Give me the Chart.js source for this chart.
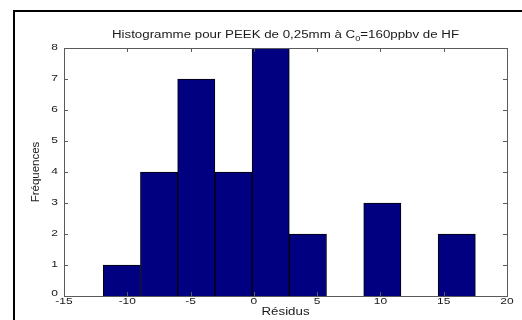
<!DOCTYPE html>
<html>
<head>
<meta charset="utf-8">
<script src="https://cdn.jsdelivr.net/npm/chart.js@4/dist/chart.umd.min.js"></script>
<style>
  html, body { margin: 0; padding: 0; background: #fff; }
  #wrap { width: 522px; height: 320px; position: relative; }
</style>
</head>
<body>
<div id="wrap"><canvas id="histo"></canvas></div>
<script>
// Bin centres (residuals) and counts
binCenters = [-10.43, -7.49, -4.55, -1.61, 1.33, 4.27, 7.21, 10.15, 13.09, 16.03];
counts = [1, 4, 7, 4, 8, 2, 0, 3, 0, 2];
xTicks = [-15, -10, -5, 0, 5, 10, 15, 20];
yTicks = [0, 1, 2, 3, 4, 5, 6, 7, 8];

FONT = '"Liberation Sans", Arial, sans-serif';
STRETCH = 1.33;   // the reference text is a bit wider than normal Arial

// text drawn horizontally stretched, like the scaled figure
function wideText(ctx, str, x, y, size, align) {
    ctx.save();
    ctx.font = size + 'px ' + FONT;
    const w = ctx.measureText(str).width * STRETCH;
    let left = x;
    if (align === 'center') left = x - w / 2;
    if (align === 'right') left = x - w;
    ctx.translate(left, y);
    ctx.scale(STRETCH, 1);
    ctx.textAlign = 'left';
    ctx.fillText(str, 0, 0);
    ctx.restore();
    return w;
}

// Draws frame, titles, tick labels and inward tick marks (MATLAB style)
const matlabLook = {
    id: 'matlabLook',
    afterDraw(chart) {
        const ctx = chart.ctx;
        const a = chart.chartArea;
        const xs = chart.scales.x, ys = chart.scales.y;
        ctx.save();

        // Outer figure frame
        ctx.strokeStyle = '#000';
        ctx.lineWidth = 2;
        ctx.beginPath();
        ctx.moveTo(14, 330);
        ctx.lineTo(14, 11);
        ctx.lineTo(530, 11);
        ctx.stroke();

        // Axes box
        ctx.strokeStyle = '#5a5a5a';
        ctx.lineWidth = 1;
        ctx.strokeRect(a.left + 0.5, a.top + 0.5, a.right - a.left, a.bottom - a.top);

        // Inward tick marks on the four sides
        ctx.beginPath();
        xTicks.forEach(v => {
            const px = Math.round(xs.getPixelForValue(v)) + 0.5;
            ctx.moveTo(px, a.bottom); ctx.lineTo(px, a.bottom - 4);
            ctx.moveTo(px, a.top); ctx.lineTo(px, a.top + 4);
        });
        yTicks.forEach(v => {
            const py = Math.round(ys.getPixelForValue(v)) + 0.5;
            ctx.moveTo(a.left, py); ctx.lineTo(a.left + 4, py);
            ctx.moveTo(a.right, py); ctx.lineTo(a.right - 4, py);
        });
        ctx.stroke();

        ctx.fillStyle = '#1a1a1a';
        ctx.textBaseline = 'middle';

        // Tick labels
        xTicks.forEach(v => wideText(ctx, String(v), xs.getPixelForValue(v), a.bottom + 6, 9, 'center'));
        yTicks.forEach(v => wideText(ctx, String(v), a.left - 6, ys.getPixelForValue(v) - (v === 0 ? 2 : 0), 9, 'right'));

        // Title with subscript
        ctx.textBaseline = 'alphabetic';
        const part1 = 'Histogramme pour PEEK de 0,25mm à C';
        const sub = '0';
        const part2 = '=160ppbv de HF';
        ctx.font = '10px ' + FONT;
        const w1 = ctx.measureText(part1).width * STRETCH;
        const w3 = ctx.measureText(part2).width * STRETCH;
        ctx.font = '7px ' + FONT;
        const w2 = ctx.measureText(sub).width * STRETCH;
        const x0 = (a.left + a.right) / 2 - (w1 + w2 + w3) / 2;
        const ty = 38;
        wideText(ctx, part1, x0, ty, 10, 'left');
        wideText(ctx, sub, x0 + w1, ty + 3, 7, 'left');
        wideText(ctx, part2, x0 + w1 + w2, ty, 10, 'left');

        // Axis labels
        ctx.textBaseline = 'middle';
        wideText(ctx, 'Résidus', (a.left + a.right) / 2, 312, 10, 'center');
        ctx.translate(36, (a.top + a.bottom) / 2);
        ctx.rotate(-Math.PI / 2);
        ctx.font = '10px ' + FONT;
        ctx.textAlign = 'center';
        ctx.save();
        ctx.scale(1.15, 1);
        ctx.fillText('Fréquences', 0, 0);
        ctx.restore();
        ctx.restore();
    }
};

new Chart('histo', {
    type: 'bar',
    data: {
        datasets: [{
            data: binCenters.map((c, i) => ({ x: c, y: counts[i] })),
            backgroundColor: '#000080',
            borderColor: '#000000',
            borderWidth: 1,
            barPercentage: 1.0,
            categoryPercentage: 1.0
        }]
    },
    options: {
        responsive: true,
        maintainAspectRatio: false,
        animation: false,
        layout: { padding: { left: 0, right: 15, top: 48, bottom: 0 } },
        plugins: { legend: { display: false }, tooltip: { enabled: false } },
        scales: {
            x: {
                type: 'linear',
                offset: false,
                min: -15, max: 20,
                afterFit: (s) => { s.height = 24; },
                afterBuildTicks: (s) => { s.ticks = xTicks.map(v => ({ value: v })); },
                grid: { display: false, drawTicks: false, offset: false },
                border: { display: false },
                ticks: { display: false }
            },
            y: {
                min: 0, max: 8,
                afterFit: (s) => { s.width = 64; },
                afterBuildTicks: (s) => { s.ticks = yTicks.map(v => ({ value: v })); },
                grid: { display: false, drawTicks: false },
                border: { display: false },
                ticks: { display: false }
            }
        }
    },
    plugins: [matlabLook]
});
</script>
</body>
</html>
